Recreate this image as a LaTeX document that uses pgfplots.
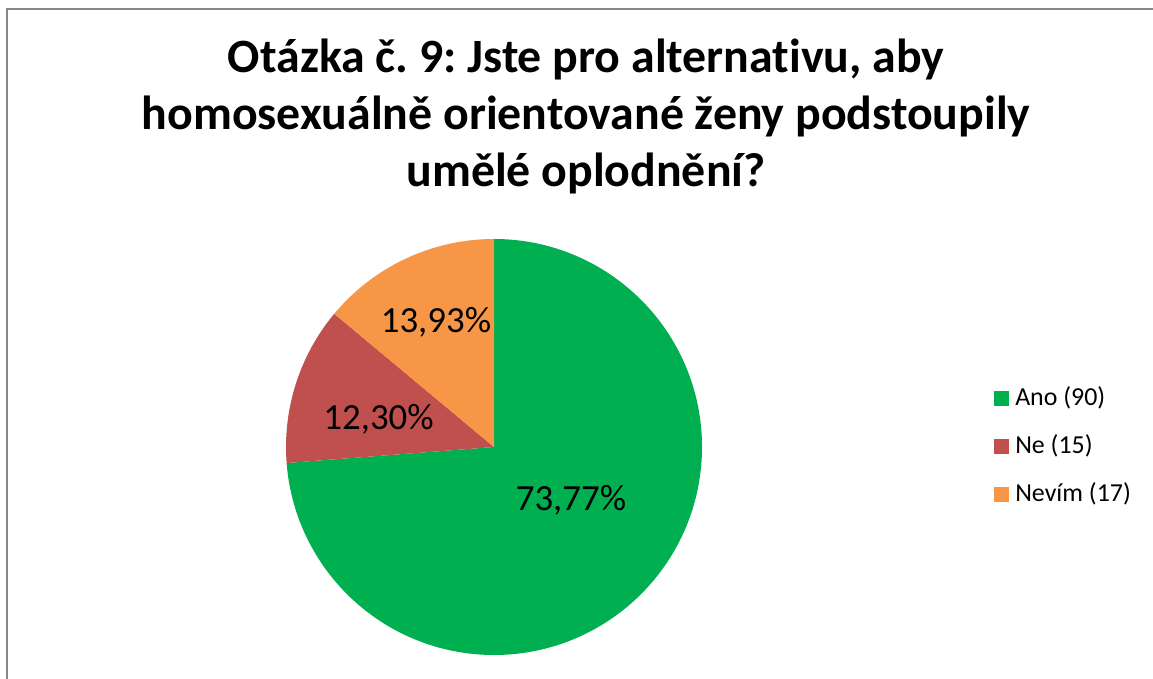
\documentclass[border=0pt]{standalone}
\usepackage{fontspec}
\setmainfont{Carlito}[Ligatures=NoCommon]
\usepackage{pgfplots}
\usepackage{pgfplotstable}
\pgfplotsset{compat=1.18}
\frenchspacing

\definecolor{ano}{HTML}{00B050}
\definecolor{ne}{HTML}{C0504D}
\definecolor{nevim}{HTML}{F79646}
\definecolor{framegray}{HTML}{868686}

\pgfplotstableread{
label value
Ano 90
Ne 15
Nevim 17
}\piedata

\pgfplotstablegetelem{0}{value}\of\piedata \let\vAno\pgfplotsretval
\pgfplotstablegetelem{1}{value}\of\piedata \let\vNe\pgfplotsretval
\pgfplotstablegetelem{2}{value}\of\piedata \let\vNevim\pgfplotsretval
\pgfmathsetmacro\total{\vAno+\vNe+\vNevim}
% slices run clockwise from 12 o'clock
\pgfmathsetmacro\aA{90-\vAno/\total*360}
\pgfmathsetmacro\aB{\aA-\vNe/\total*360}

\pgfplotsset{sqlegend/.style={legend image code/.code={\fill[##1, draw=none] (0bp,-7.5bp) rectangle (15bp,7.5bp);}}}

\begin{document}
\begin{tikzpicture}[x=1bp,y=1bp]
\useasboundingbox (0,0) rectangle (1153,679);
\fill[white] (0,0) rectangle (1153,679);
\draw[framegray, line width=2.5bp] (7,-10) -- (7,670) -- (1165,670);

\node[anchor=base, font=\bfseries\fontsize{48}{57}\selectfont] at (586,606) {Otázka č. 9: Jste pro alternativu, aby};
\node[anchor=base, font=\bfseries\fontsize{48}{57}\selectfont] at (586,549) {homosexuálně orientované ženy podstoupily};
\node[anchor=base, font=\bfseries\fontsize{48}{57}\selectfont] at (586,492) {umělé oplodnění?};

\begin{axis}[
    at={(494bp,232bp)}, anchor=center,
    width=416bp, height=416bp, scale only axis,
    xmin=-1, xmax=1, ymin=-1, ymax=1,
    hide axis, clip=false,
    legend cell align=left,
    legend style={
        at={(1.702,0.5)}, anchor=west,
        draw=none, fill=none, inner sep=0pt,
        font=\fontsize{26}{31}\selectfont,
        row sep=21bp,
        nodes={inner sep=2bp, text height=18bp, text depth=5bp},
        /tikz/every odd column/.append style={column sep=4bp},
    },
]
\fill[ano] (axis cs:0,0) -- (axis cs:0,1) arc[start angle=90, end angle=\aA, radius=1] -- cycle;
\fill[ne] (axis cs:0,0) -- (axis cs:{cos(\aA)},{sin(\aA)}) arc[start angle=\aA, end angle=\aB, radius=1] -- cycle;
\fill[nevim] (axis cs:0,0) -- (axis cs:{cos(\aB)},{sin(\aB)}) arc[start angle=\aB, end angle=-270, radius=1] -- cycle;

\addlegendimage{sqlegend, fill=ano}
\addlegendentry{Ano (90)}
\addlegendimage{sqlegend, fill=ne}
\addlegendentry{Ne (15)}
\addlegendimage{sqlegend, fill=nevim}
\addlegendentry{Nevím (17)}

\node[font=\fontsize{37}{44}\selectfont] at (axis cs:0.370,-0.255) {73,77\%};
\node[font=\fontsize{37}{44}\selectfont] at (axis cs:-0.555,0.135) {12,30\%};
\node[font=\fontsize{37}{44}\selectfont] at (axis cs:-0.279,0.601) {13,93\%};
\end{axis}
\end{tikzpicture}
\end{document}
